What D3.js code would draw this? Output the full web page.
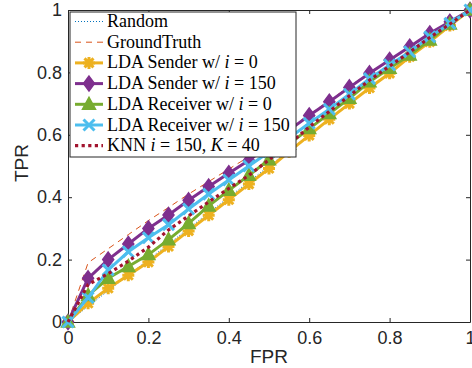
<!DOCTYPE html>
<html>
<head>
<meta charset="utf-8">
<script src="https://cdn.jsdelivr.net/npm/d3@7"></script>
<style>
  body { margin: 0; background: #fff; }
  svg { display: block; }
</style>
</head>
<body>
<svg id="roc" width="472" height="368"></svg>
<script>
// FPR sampling points
var fpr = [0, 0.05, 0.1, 0.15, 0.2, 0.25, 0.3, 0.35, 0.4, 0.45, 0.5,
           0.55, 0.6, 0.65, 0.7, 0.75, 0.8, 0.85, 0.9, 0.95, 1];

// TPR of each curve
var tprRandom      = [0, 0.05, 0.1, 0.15, 0.2, 0.25, 0.3, 0.35, 0.4, 0.45, 0.5,
                      0.55, 0.6, 0.65, 0.7, 0.75, 0.8, 0.85, 0.9, 0.95, 1];
var tprGroundTruth = [0, 0.19, 0.235, 0.28, 0.325, 0.367, 0.41, 0.45, 0.49, 0.53, 0.575,
                      0.62, 0.665, 0.71, 0.755, 0.80, 0.84, 0.885, 0.925, 0.962, 1];
var tprSender0     = [0, 0.06, 0.108, 0.15, 0.192, 0.242, 0.292, 0.342, 0.392, 0.442, 0.492,
                      0.546, 0.598, 0.65, 0.70, 0.75, 0.797, 0.85, 0.898, 0.95, 1];
var tprSender150   = [0, 0.14, 0.20, 0.25, 0.30, 0.343, 0.39, 0.434, 0.477, 0.518, 0.565,
                      0.615, 0.662, 0.706, 0.752, 0.797, 0.84, 0.882, 0.925, 0.962, 1];
var tprReceiver0   = [0, 0.085, 0.14, 0.178, 0.216, 0.264, 0.316, 0.372, 0.422, 0.47, 0.52,
                      0.57, 0.62, 0.668, 0.717, 0.77, 0.813, 0.856, 0.904, 0.955, 1];
var tprReceiver150 = [0, 0.078, 0.167, 0.225, 0.27, 0.312, 0.362, 0.41, 0.455, 0.50, 0.545,
                      0.59, 0.637, 0.682, 0.73, 0.78, 0.824, 0.866, 0.914, 0.957, 1];
var tprKNN         = [0, 0.12, 0.155, 0.195, 0.24, 0.295, 0.34, 0.385, 0.428, 0.47, 0.52,
                      0.57, 0.625, 0.675, 0.725, 0.775, 0.82, 0.865, 0.912, 0.955, 1];

var xTicks = [0, 0.2, 0.4, 0.6, 0.8, 1];
var yTicks = [0, 0.2, 0.4, 0.6, 0.8, 1];

// 凡例と描画設定（MATLAB 既定色）
var series = [
  { label: [["Random"]], data: tprRandom, color: "#0072BD", width: 1, dash: "1,2", marker: null },
  { label: [["GroundTruth"]], data: tprGroundTruth, color: "#D95319", width: 1, dash: "6,5", marker: null },
  { label: [["LDA Sender w/ "], ["i", true], [" = 0"]], data: tprSender0, color: "#EDB120", width: 3, dash: null, marker: "star" },
  { label: [["LDA Sender w/ "], ["i", true], [" = 150"]], data: tprSender150, color: "#7E2F8E", width: 3, dash: null, marker: "diamond" },
  { label: [["LDA Receiver w/ "], ["i", true], [" = 0"]], data: tprReceiver0, color: "#77AC30", width: 3, dash: null, marker: "triangle" },
  { label: [["LDA Receiver w/ "], ["i", true], [" = 150"]], data: tprReceiver150, color: "#4DBEEE", width: 3, dash: null, marker: "cross" },
  { label: [["KNN "], ["i", true], [" = 150, "], ["K", true], [" = 40"]], data: tprKNN, color: "#A2142F", width: 3.2, dash: "3.2,3.4", marker: null }
];

var plot = { left: 68, right: 470, top: 10, bottom: 322 };

var svg = d3.select("#roc");
var x = d3.scaleLinear().domain([0, 1]).range([plot.left, plot.right]);
var y = d3.scaleLinear().domain([0, 1]).range([plot.bottom, plot.top]);

var axisColor = "#262626";
var tickFont = "'Liberation Sans', Arial, Helvetica, sans-serif";

// 軸（目盛りは内向き）
function styleAxis(g){
  g.selectAll("path.domain").attr("stroke", axisColor).attr("stroke-width", 1);
  g.selectAll(".tick line").attr("stroke", axisColor);
  g.selectAll("text").attr("fill", axisColor).style("font-family", tickFont).style("font-size", "18px");
}

svg.append("g")
  .attr("transform", "translate(0," + plot.bottom + ")")
  .call(d3.axisBottom(x).tickValues(xTicks).tickFormat(d3.format("")).tickSizeInner(-4).tickSizeOuter(0).tickPadding(9))
  .call(styleAxis);
svg.append("g")
  .attr("transform", "translate(0," + plot.top + ")")
  .call(d3.axisTop(x).tickValues(xTicks).tickFormat("").tickSizeInner(-4).tickSizeOuter(0))
  .call(styleAxis);
svg.append("g")
  .attr("transform", "translate(" + plot.left + ",0)")
  .call(d3.axisLeft(y).tickValues(yTicks).tickFormat(d3.format("")).tickSizeInner(-4).tickSizeOuter(0).tickPadding(6))
  .call(styleAxis);
svg.append("g")
  .attr("transform", "translate(" + plot.right + ",0)")
  .call(d3.axisRight(y).tickValues(yTicks).tickFormat("").tickSizeInner(-4).tickSizeOuter(0))
  .call(styleAxis);

// 軸ラベル
svg.append("text")
  .attr("x", (plot.left + plot.right) / 2).attr("y", 363)
  .attr("text-anchor", "middle")
  .style("font-family", tickFont).style("font-size", "19px").attr("fill", axisColor)
  .text("FPR");
svg.append("text")
  .attr("transform", "translate(28," + 163 + ") rotate(-90)")
  .attr("text-anchor", "middle")
  .style("font-family", tickFont).style("font-size", "19px").attr("fill", axisColor)
  .text("TPR");

// マーカー形状
function markerPath(type){
  if (type === "diamond") return "M0,-7.5L5.5,0L0,7.5L-5.5,0Z";
  if (type === "triangle") return "M0,-7L6.5,5L-6.5,5Z";
  if (type === "cross") return "M-5.5,-5.5L5.5,5.5M-5.5,5.5L5.5,-5.5";
  if (type === "star") return "M-6,0L6,0M0,-6L0,6M-4.5,-4.5L4.5,4.5M-4.5,4.5L4.5,-4.5";
  return "";
}

function drawMarker(g, type, color, cx, cy){
  var filled = (type === "diamond" || type === "triangle");
  g.append("path")
    .attr("d", markerPath(type))
    .attr("transform", "translate(" + cx + "," + cy + ")")
    .attr("fill", filled ? color : "none")
    .attr("stroke", color)
    .attr("stroke-width", filled ? 1.5 : 3)
    .attr("stroke-linejoin", "miter");
}

var line = d3.line()
  .x(function(d, i){ return x(fpr[i]); })
  .y(function(d){ return y(d); });

// 折れ線とマーカー
var curves = svg.append("g");
series.forEach(function(s){
  var g = curves.append("g");
  g.append("path")
    .datum(s.data)
    .attr("d", line)
    .attr("fill", "none")
    .attr("stroke", s.color)
    .attr("stroke-width", s.width)
    .attr("stroke-dasharray", s.dash)
    .attr("stroke-linecap", s.marker ? "round" : "butt");
  if (s.marker){
    s.data.forEach(function(d, i){
      drawMarker(g, s.marker, s.color, x(fpr[i]), y(d));
    });
  }
});

// 凡例
var legend = svg.append("g");
legend.append("rect")
  .attr("x", 70).attr("y", 12).attr("width", 226).attr("height", 145)
  .attr("fill", "#fff").attr("stroke", axisColor).attr("stroke-width", 1);

var rowH = 20.7;
series.forEach(function(s, i){
  var base = 27 + i * rowH;
  var cy = base - 5.5;
  legend.append("line")
    .attr("x1", 75).attr("x2", 103).attr("y1", cy).attr("y2", cy)
    .attr("stroke", s.color).attr("stroke-width", s.width)
    .attr("stroke-dasharray", s.dash);
  if (s.marker) drawMarker(legend, s.marker, s.color, 89, cy);
  var t = legend.append("text")
    .attr("x", 107).attr("y", base)
    .style("font-family", "'Liberation Serif', 'Times New Roman', serif")
    .style("font-size", "18px")
    .attr("fill", "#000");
  s.label.forEach(function(p){
    t.append("tspan")
      .style("font-style", p[1] ? "italic" : "normal")
      .attr("xml:space", "preserve")
      .text(p[0]);
  });
});
</script>
</body>
</html>
